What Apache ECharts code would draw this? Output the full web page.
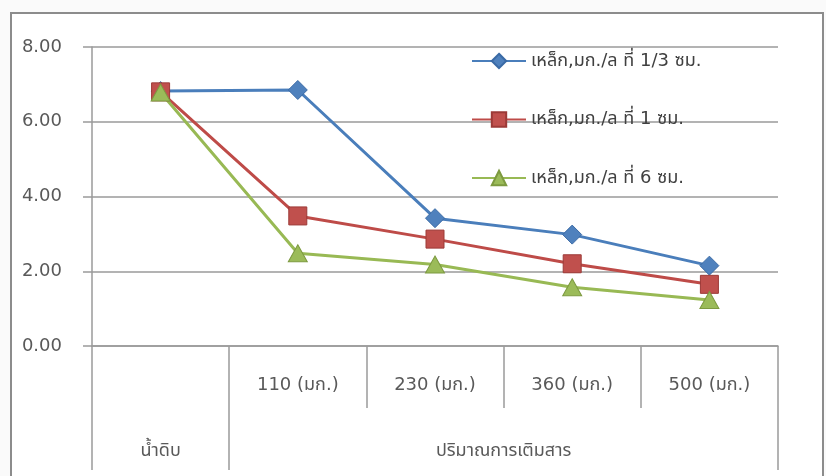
<!DOCTYPE html>
<html>
<head>
<meta charset="utf-8">
<script src="https://cdn.jsdelivr.net/npm/echarts@6/dist/echarts.min.js"></script>
<style>
html,body{margin:0;padding:0;background:#fafafa;}
#wrap{position:relative;width:826px;height:476px;overflow:hidden;background:#fafafa;}
#chart{position:absolute;left:0;top:0;width:826px;height:476px;}
#frame{position:absolute;left:10px;top:12px;width:810px;height:480px;border:2px solid #8c8c8c;background:#fff;}
</style>
</head>
<body>
<div id="wrap"><div id="frame"></div><div id="chart"></div></div>
<script>
const topLabels = ['', '110 (มก.)', '230 (มก.)', '360 (มก.)', '500 (มก.)'];
const groupLabels = ['น้ำดิบ', 'ปริมาณการเติมสาร'];
const groupCenters = [0.5, 3];
const seriesNames = ['เหล็ก,มก./ล ที่ 1/3 ซม.', 'เหล็ก,มก./ล ที่ 1 ซม.', 'เหล็ก,มก./ล ที่ 6 ซม.'];
const iron13 = [6.82, 6.85, 3.42, 2.98, 2.15];
const iron1 = [6.80, 3.48, 2.86, 2.20, 1.65];
const iron6 = [6.78, 2.48, 2.18, 1.57, 1.23];
const yTicks = [0, 2, 4, 6, 8];

const FONT = '"DejaVu Sans", Tahoma, "Noto Sans Thai", "Noto Sans", sans-serif';
const GRAY = '#9a9a9a';
const TXT = '#595959';
const FS = 18;

const chart = echarts.init(document.getElementById('chart'), null, {renderer: 'canvas'});
chart.setOption({
  animation: false,
  backgroundColor: 'transparent',
  textStyle: {fontFamily: FONT},
  grid: {left: 92, right: 48, top: 47, bottom: 130, containLabel: false},
  legend: {
    orient: 'vertical',
    left: 471, top: 52, padding: 0,
    itemWidth: 54, itemHeight: 18,
    itemGap: 40.5,
    textStyle: {fontFamily: FONT, fontSize: FS, color: '#404040'},
    data: seriesNames
  },
  xAxis: [
    {
      type: 'category', data: topLabels, boundaryGap: true,
      axisLine: {show: true, lineStyle: {color: GRAY, width: 1.5}},
      axisTick: {show: true, length: 62, lineStyle: {color: GRAY, width: 1.5}},
      axisLabel: {margin: 30, fontSize: FS, color: TXT, fontFamily: FONT, interval: 0},
      splitLine: {show: false}
    },
    {
      type: 'category', data: topLabels, boundaryGap: true, position: 'bottom',
      axisLine: {show: false},
      axisTick: {show: true, length: 124, interval: function (i) { return i === 0 || i === 1; }, lineStyle: {color: GRAY, width: 1.5}},
      axisLabel: {show: false},
      splitLine: {show: false}
    },
    {
      type: 'value', min: 0, max: 5, interval: 0.5, position: 'bottom',
      axisLine: {show: false}, axisTick: {show: false}, splitLine: {show: false},
      axisLabel: {
        margin: 96, fontSize: FS, color: TXT, fontFamily: FONT,
        showMinLabel: false, showMaxLabel: false,
        formatter: function (v) {
          const k = groupCenters.findIndex(function (c) { return Math.abs(c - v) < 1e-6; });
          return k >= 0 ? groupLabels[k] : '';
        }
      }
    }
  ],
  yAxis: {
    type: 'value', min: yTicks[0], max: yTicks[yTicks.length - 1], interval: 2,
    axisLine: {show: true, lineStyle: {color: GRAY, width: 1.5}},
    axisTick: {show: true, length: 9, lineStyle: {color: GRAY, width: 1.5}},
    axisLabel: {margin: 30, fontSize: FS, color: TXT, fontFamily: FONT, formatter: function (v) { return v.toFixed(2); }},
    splitLine: {show: true, lineStyle: {color: GRAY, width: 1.5}}
  },
  series: [
    {
      name: seriesNames[0], type: 'line', data: iron13, xAxisIndex: 0,
      symbol: 'diamond', symbolSize: 19,
      lineStyle: {color: '#4a7ebb', width: 3},
      itemStyle: {color: '#4f81bd', borderColor: '#3a6aa5', borderWidth: 1}
    },
    {
      name: seriesNames[1], type: 'line', data: iron1, xAxisIndex: 0,
      symbol: 'rect', symbolSize: 18,
      lineStyle: {color: '#be4b48', width: 3},
      itemStyle: {color: '#c0504d', borderColor: '#9c3a37', borderWidth: 1}
    },
    {
      name: seriesNames[2], type: 'line', data: iron6, xAxisIndex: 0,
      symbol: 'triangle', symbolSize: [19, 17],
      lineStyle: {color: '#98b954', width: 3},
      itemStyle: {color: '#9bbb59', borderColor: '#7d9a40', borderWidth: 1}
    }
  ]
});
</script>
</body>
</html>
